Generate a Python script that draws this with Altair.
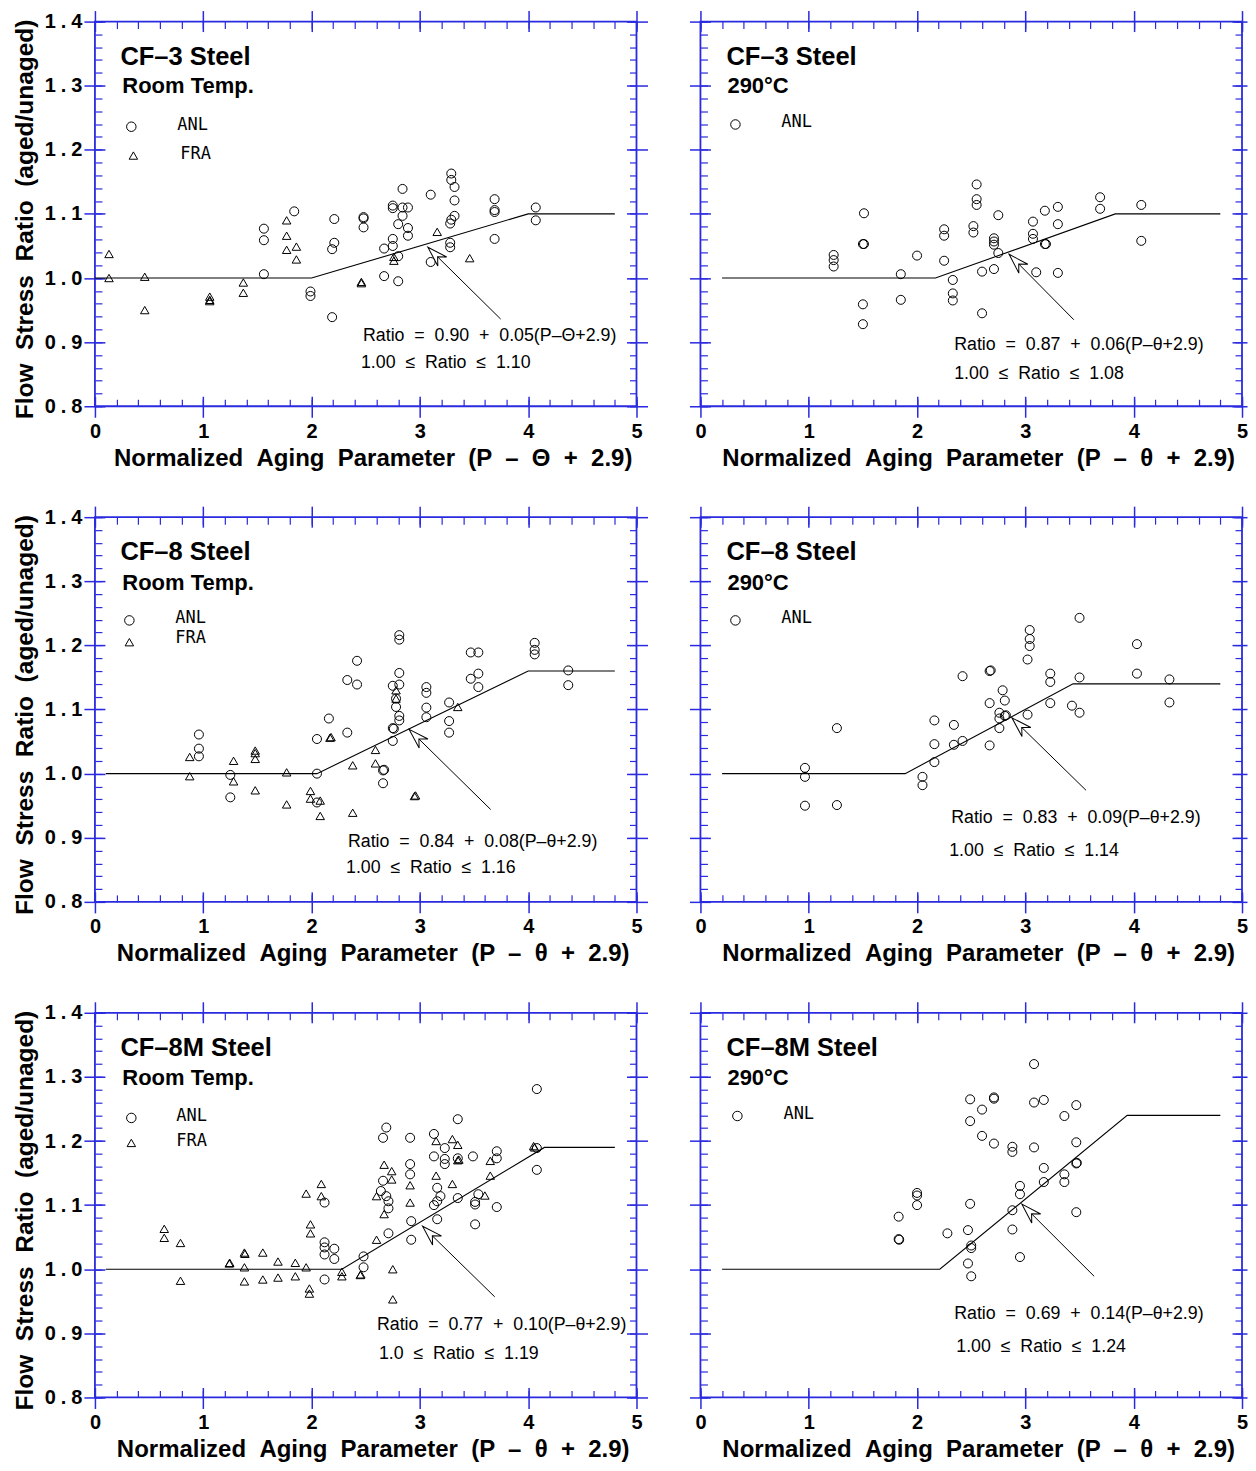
import math
import altair as alt
import pandas as pd

# ----------------------------- data -----------------------------
cf3_rt_anl = [(1.56,1.077),(1.56,1.059),(1.56,1.006),(1.84,1.104),(1.99,0.979),(1.99,0.972),(2.19,0.939),
              (2.21,1.092),(2.21,1.055),(2.19,1.045),(2.48,1.095),(2.48,1.093),(2.48,1.079),(2.67,1.046),
              (2.67,1.003),(2.75,1.113),(2.75,1.109),(2.75,1.061),(2.75,1.050),(2.80,1.084),(2.80,1.034),
              (2.80,0.995),(2.84,1.139),(2.84,1.110),(2.84,1.097),(2.89,1.110),(2.89,1.078),(2.89,1.066),
              (3.10,1.130),(3.10,1.025),(3.28,1.085),(3.29,1.091),(3.28,1.055),(3.28,1.048),(3.29,1.163),
              (3.29,1.153),(3.32,1.142),(3.32,1.121),(3.32,1.097),(3.69,1.123),(3.69,1.106),(3.69,1.103),
              (3.69,1.061),(4.07,1.110),(4.07,1.090)]
cf3_rt_fra = [(0.13,1.0375),(0.13,1.000),(0.46,1.002),(0.46,0.950),(1.06,0.971),(1.06,0.966),(1.06,0.964),
              (1.37,0.993),(1.37,0.977),(1.77,1.090),(1.77,1.066),(1.77,1.044),(1.86,1.049),(1.86,1.029),
              (2.46,0.994),(2.46,0.992),(2.76,1.033),(2.76,1.027),(3.16,1.072),(3.46,1.031)]
cf3_290_anl = [(1.23,1.036),(1.23,1.028),(1.23,1.018),(1.51,1.101),(1.50,1.053),(1.51,1.053),(1.50,0.959),
               (1.50,0.928),(1.85,1.006),(1.85,0.966),(2.00,1.035),(2.25,1.076),(2.25,1.066),(2.25,1.027),
               (2.33,0.997),(2.33,0.976),(2.33,0.965),(2.52,1.081),(2.52,1.071),(2.55,1.146),(2.55,1.123),
               (2.55,1.114),(2.60,1.010),(2.60,0.945),(2.71,1.062),(2.71,1.057),(2.71,1.052),(2.71,1.014),
               (2.75,1.098),(2.75,1.039),(3.07,1.088),(3.07,1.069),(3.07,1.061),(3.10,1.009),(3.18,1.105),
               (3.18,1.053),(3.19,1.053),(3.30,1.111),(3.30,1.084),(3.30,1.008),(3.69,1.126),(3.69,1.108),
               (4.07,1.114),(4.07,1.058)]
cf8_rt_anl = [(0.96,1.061),(0.96,1.039),(0.96,1.027),(1.25,0.998),(1.25,0.963),(2.05,1.000),(2.05,0.955),
              (2.05,1.054),(2.16,1.086),(2.33,1.064),(2.33,1.146),(2.42,1.139),(2.42,1.176),(2.66,1.005),
              (2.67,1.006),(2.66,0.985),(2.75,1.051),(2.75,1.071),(2.76,1.070),(2.75,1.137),(2.78,1.117),
              (2.78,1.104),(2.81,1.216),(2.81,1.209),(2.81,1.157),(2.81,1.139),(2.81,1.090),(2.81,1.083),
              (3.06,1.135),(3.06,1.126),(3.06,1.103),(3.06,1.088),(3.27,1.111),(3.27,1.082),(3.27,1.064),
              (3.47,1.148),(3.47,1.189),(3.54,1.189),(3.54,1.156),(3.54,1.135),(4.06,1.204),(4.06,1.193),
              (4.06,1.186),(4.37,1.161),(4.37,1.138)]
cf8_rt_fra = [(0.875,1.026),(0.875,0.996),(1.28,1.020),(1.28,0.988),(1.48,1.036),(1.48,1.032),(1.48,1.023),
              (1.48,0.974),(1.77,1.002),(1.77,0.952),(1.99,0.973),(1.99,0.961),(2.08,0.958),(2.08,0.934),
              (2.17,1.056),(2.18,1.057),(2.38,1.013),(2.38,0.939),(2.59,1.037),(2.59,1.016),(2.78,1.130),
              (2.78,1.117),(2.95,0.965),(2.96,0.966),(3.35,1.104)]
cf8_290_anl = [(0.965,1.009),(0.965,0.995),(0.965,0.950),(1.26,1.071),(1.26,0.951),(2.05,0.995),(2.05,0.982),
               (2.16,1.083),(2.16,1.046),(2.16,1.018),(2.34,1.076),(2.34,1.045),(2.42,1.152),(2.42,1.051),
               (2.67,1.160),(2.68,1.161),(2.67,1.110),(2.67,1.044),(2.76,1.095),(2.76,1.086),(2.76,1.071),
               (2.79,1.130),(2.81,1.114),(2.81,1.090),(2.82,1.091),(3.02,1.178),(3.04,1.224),(3.04,1.210),
               (3.04,1.199),(3.02,1.092),(3.23,1.156),(3.23,1.143),(3.23,1.110),(3.43,1.106),(3.50,1.150),
               (3.50,1.095),(3.50,1.243),(4.03,1.202),(4.03,1.156),(4.33,1.147),(4.33,1.111)]
cf8m_rt_anl = [(2.12,1.104),(2.12,1.042),(2.12,1.034),(2.12,1.023),(2.21,1.032),(2.21,1.016),(2.12,0.984),
               (2.48,1.020),(2.48,1.003),(4.08,1.281),(4.08,1.189),(4.08,1.155),(3.35,1.234),(2.69,1.221),
               (2.66,1.205),(2.91,1.205),(3.13,1.211),(3.23,1.189),(3.13,1.176),(3.23,1.172),(3.23,1.164),
               (3.35,1.173),(3.49,1.176),(3.71,1.184),(3.71,1.173),(2.91,1.164),(2.91,1.148),(2.66,1.138),
               (2.64,1.122),(2.69,1.114),(2.71,1.106),(2.71,1.095),(3.16,1.127),(3.19,1.114),(3.16,1.106),
               (3.13,1.100),(3.35,1.111),(3.51,1.105),(3.51,1.101),(3.54,1.117),(3.71,1.097),(3.16,1.078),
               (3.51,1.070),(2.92,1.075),(2.71,1.056),(2.92,1.046)]
cf8m_rt_fra = [(0.64,1.063),(0.64,1.049),(0.79,1.041),(0.79,0.982),(1.24,1.009),(1.245,1.010),(1.38,1.026),
               (1.385,1.024),(1.38,1.003),(1.38,0.981),(1.55,1.026),(1.55,0.984),(1.69,1.012),(1.69,0.987),
               (1.85,1.010),(1.85,0.989),(1.95,1.003),(1.95,1.118),(1.98,0.970),(1.98,0.962),(1.99,1.070),
               (1.99,1.056),(2.09,1.133),(2.09,1.114),(2.28,0.996),(2.28,0.989),(2.45,0.991),(2.455,0.992),
               (2.60,1.114),(2.60,1.046),(3.15,1.200),(3.30,1.203),(3.35,1.194),(3.35,1.170),(3.36,1.171),
               (3.65,1.169),(3.65,1.146),(3.15,1.146),(3.30,1.133),(2.67,1.163),(2.74,1.153),(2.74,1.140),
               (2.91,1.131),(2.91,1.104),(2.67,1.086),(3.60,1.115),(4.05,1.192),(4.06,1.190),(2.75,1.000),
               (2.75,0.953)]
cf8m_290_anl = [(3.08,1.320),(2.49,1.265),(2.71,1.268),(2.71,1.266),(2.60,1.249),(3.08,1.260),(3.17,1.264),
                (3.47,1.256),(3.36,1.239),(2.49,1.231),(2.60,1.208),(2.71,1.196),(2.88,1.191),(2.88,1.183),
                (3.08,1.190),(3.47,1.198),(3.47,1.165),(3.475,1.166),(3.17,1.158),(3.36,1.148),(3.17,1.136),
                (3.36,1.136),(2.95,1.130),(2.95,1.117),(2.88,1.092),(3.47,1.089),(2.00,1.119),(2.00,1.115),
                (2.00,1.100),(1.83,1.082),(1.83,1.047),(1.835,1.046),(2.28,1.056),(2.49,1.102),(2.47,1.061),
                (2.50,1.037),(2.50,1.033),(2.47,1.009),(2.50,0.989),(2.88,1.062),(2.95,1.019)]

# fitted (bilinear) curves as drawn
cf3_rt_fit = [(0.0,1.0),(2.0,1.0),(4.0,1.1),(4.8,1.1)]
cf3_290_fit = [(0.2,1.0),(2.17,1.0),(3.83,1.1),(4.8,1.1)]
cf8_rt_fit = [(0.1,1.0),(2.05,1.0),(4.0,1.16),(4.8,1.16)]
cf8_290_fit = [(0.2,1.0),(1.89,1.0),(3.44,1.14),(4.8,1.14)]
cf8m_rt_fit = [(0.1,1.0),(2.28,1.0),(4.15,1.19),(4.8,1.19)]
cf8m_290_fit = [(0.2,1.0),(2.21,1.0),(3.94,1.24),(4.8,1.24)]

# texts
panel_titles = ["CF–3 Steel", "CF–3 Steel", "CF–8 Steel", "CF–8 Steel", "CF–8M Steel", "CF–8M Steel"]
panel_subtitles = ["Room Temp.", "290°C", "Room Temp.", "290°C", "Room Temp.", "290°C"]
eq_line1 = ["Ratio = 0.90 + 0.05(P–Θ+2.9)", "Ratio = 0.87 + 0.06(P–θ+2.9)", "Ratio = 0.84 + 0.08(P–θ+2.9)",
            "Ratio = 0.83 + 0.09(P–θ+2.9)", "Ratio = 0.77 + 0.10(P–θ+2.9)", "Ratio = 0.69 + 0.14(P–θ+2.9)"]
eq_line2 = ["1.00 ≤ Ratio ≤ 1.10", "1.00 ≤ Ratio ≤ 1.08", "1.00 ≤ Ratio ≤ 1.16",
            "1.00 ≤ Ratio ≤ 1.14", "1.0 ≤ Ratio ≤ 1.19", "1.00 ≤ Ratio ≤ 1.24"]
x_titles = ["Normalized Aging Parameter (P – Θ + 2.9)"] + ["Normalized Aging Parameter (P – θ + 2.9)"] * 5
y_title = "Flow Stress Ratio (aged/unaged)"
legend_names = ["ANL", "FRA"]

# annotation anchors (data units)
title_pos = [(0.235,1.3455),(0.24,1.3455),(0.235,1.345),(0.24,1.345),(0.235,1.345),(0.24,1.345)]
sub_pos = [(0.253,1.299),(0.249,1.299),(0.253,1.298),(0.249,1.298),(0.253,1.298),(0.249,1.298)]
anl_sym_pos = [(0.336,1.236),(0.323,1.2395),(0.318,1.239),(0.323,1.239),(0.336,1.236),(0.341,1.239)]
anl_lab_pos = [(0.76,1.238),(0.747,1.243),(0.742,1.242),(0.747,1.242),(0.751,1.239),(0.766,1.242)]
fra_sym_pos = [(0.355,1.191),None,(0.318,1.205),None,(0.336,1.197),None]
fra_lab_pos = [(0.788,1.194),None,(0.742,1.211),None,(0.751,1.200),None]
eq1_pos = [(2.475,0.909),(2.343,0.895),(2.336,0.893),(2.315,0.931),(2.604,0.913),(2.343,0.930)]
eq2_pos = [(2.456,0.867),(2.343,0.850),(2.318,0.853),(2.297,0.879),(2.622,0.868),(2.362,0.879)]
arrow_tip = [(3.074,1.048),(2.85,1.037),(2.901,1.069),(2.876,1.087),(3.025,1.067),(2.968,1.1015)]
arrow_tail = [(3.746,0.936),(3.447,0.935),(3.654,0.944),(3.56,0.974),(3.691,0.957),(3.635,0.989)]

x_major = [0, 1, 2, 3, 4, 5]
x_minor = [round(0.2 * i, 1) for i in range(26)]
y_major = [0.8, 0.9, 1.0, 1.1, 1.2, 1.3, 1.4]
y_minor = [round(0.8 + 0.02 * i, 2) for i in range(31)]

# ----------------------------- styling -----------------------------
BLUE = "#2a2ae0"
FONT = "Liberation Sans"
LEGFONT = "DejaVu Sans Mono"
W, H = 542, 385
XDOM, YDOM = [0, 5], [0.8, 1.4]
ARROW = "M0,0L0.5,1.6L0,1.08L-0.5,1.6Z"
GAP2 = " \u00a0"


def wide(s, gap):
    return s.replace(" ", gap)


def sx():
    return alt.Scale(domain=XDOM, nice=False, zero=False)


def sy():
    return alt.Scale(domain=YDOM, nice=False, zero=False)


def xy(xaxis=None, yaxis=None, xf="x", yf="y"):
    return dict(x=alt.X(f"{xf}:Q", scale=sx(), axis=xaxis), y=alt.Y(f"{yf}:Q", scale=sy(), axis=yaxis))


def minor_axis(orient, vals):
    return alt.Axis(orient=orient, values=vals, offset=-7, tickSize=7, domain=False, grid=False,
                    labels=False, title=None, tickColor=BLUE, tickWidth=1.2, minExtent=0)


def major_plain(orient, vals, size=21):
    return alt.Axis(orient=orient, values=vals, offset=-10, tickSize=size, domain=False, grid=False,
                    labels=False, title=None, tickColor=BLUE, tickWidth=1.5, minExtent=0)


def head_angle(tip, tail):
    dx = (tip[0] - tail[0]) * W / 5
    dy = -(tip[1] - tail[1]) * H / 0.6
    return math.degrees(math.atan2(dx, -dy)) % 360


def text_layer(rows, size, weight, font):
    df = pd.DataFrame(rows, columns=["x", "y", "t"])
    return alt.Chart(df).mark_text(align="left", baseline="middle", font=font, fontSize=size,
                                   fontWeight=weight, color="black").encode(**xy(), text="t:N")


def sym_layer(rows, shape, size):
    df = pd.DataFrame(rows, columns=["x", "y"])
    return alt.Chart(df).mark_point(shape=shape, filled=False, color="black", size=size,
                                    strokeWidth=1, opacity=1).encode(**xy())


anl_sets = [cf3_rt_anl, cf3_290_anl, cf8_rt_anl, cf8_290_anl, cf8m_rt_anl, cf8m_290_anl]
fra_sets = [cf3_rt_fra, None, cf8_rt_fra, None, cf8m_rt_fra, None]
fit_sets = [cf3_rt_fit, cf3_290_fit, cf8_rt_fit, cf8_290_fit, cf8m_rt_fit, cf8m_290_fit]


def panel(i):
    left = (i % 2 == 0)
    fit_df = pd.DataFrame(fit_sets[i], columns=["x", "y"])
    base = alt.Chart(fit_df)

    ax_bottom = alt.Axis(orient="bottom", values=x_major, format="d", offset=-10, tickSize=21,
                         domain=False, grid=False, tickColor=BLUE, tickWidth=1.5, minExtent=0,
                         labelFont=FONT, labelFontSize=20, labelFontWeight="bold", labelColor="black",
                         labelPadding=4, labelFlush=False, labelOverlap=False,
                         title=wide(x_titles[i], GAP2), titleFont=FONT, titleFontSize=24,
                         titleFontWeight="bold", titleColor="black", titlePadding=5, titleX=W / 2 + 7)
    if left:
        ax_left = alt.Axis(orient="left", values=y_major, offset=-10, tickSize=21, domain=False, grid=False,
                           tickColor=BLUE, tickWidth=1.5, minExtent=0, labelFont=FONT, labelFontSize=20,
                           labelFontWeight="bold", labelColor="black", labelPadding=2, labelOverlap=False,
                           labelExpr="replace(format(datum.value, '.1f'), '.', '\u2005.\u2005')",
                           title=wide(y_title, GAP2), titleFont=FONT, titleFontSize=24.5,
                           titleFontWeight="bold", titleColor="black", titlePadding=7, titleY=H / 2 + 5)
    else:
        ax_left = major_plain("left", y_major)

    right_size = 21 if left else 15
    layers = [
        base.mark_point(opacity=0).encode(**xy(ax_bottom, ax_left)),
        base.mark_point(opacity=0).encode(**xy(minor_axis("bottom", x_minor), minor_axis("left", y_minor))),
        base.mark_point(opacity=0).encode(**xy(major_plain("top", x_major),
                                               major_plain("right", y_major, right_size))),
        base.mark_point(opacity=0).encode(**xy(minor_axis("top", x_minor), minor_axis("right", y_minor))),
        base.mark_line(color="black", strokeWidth=1.1).encode(**xy()),
    ]
    layers.append(sym_layer(anl_sets[i], "circle", 81))
    if fra_sets[i] is not None:
        layers.append(sym_layer(fra_sets[i], "triangle-up", 72))

    # arrow
    tip, tail = arrow_tip[i], arrow_tail[i]
    arr_df = pd.DataFrame([{"x": tail[0], "y": tail[1], "x2": tip[0], "y2": tip[1]}])
    layers.append(alt.Chart(arr_df).mark_rule(color="black", strokeWidth=1).encode(
        x=alt.X("x:Q", scale=sx(), axis=None), y=alt.Y("y:Q", scale=sy(), axis=None),
        x2="x2:Q", y2="y2:Q"))
    head_df = pd.DataFrame([{"x": tip[0], "y": tip[1]}])
    layers.append(alt.Chart(head_df).mark_point(shape=ARROW, filled=True, fill="white", stroke="black",
                                                strokeWidth=1, size=640, opacity=1,
                                                angle=head_angle(tip, tail)).encode(**xy()))

    # texts
    layers.append(text_layer([(title_pos[i][0], title_pos[i][1], panel_titles[i])], 25.5, "bold", FONT))
    layers.append(text_layer([(sub_pos[i][0], sub_pos[i][1], panel_subtitles[i])], 22, "bold", FONT))
    leg_rows = [(anl_lab_pos[i][0], anl_lab_pos[i][1], legend_names[0])]
    layers.append(sym_layer([anl_sym_pos[i]], "circle", 90))
    if fra_sym_pos[i] is not None:
        leg_rows.append((fra_lab_pos[i][0], fra_lab_pos[i][1], legend_names[1]))
        layers.append(sym_layer([fra_sym_pos[i]], "triangle-up", 72))
    layers.append(text_layer(leg_rows, 17, "normal", LEGFONT))
    layers.append(text_layer([(eq1_pos[i][0], eq1_pos[i][1], wide(eq_line1[i], GAP2))],
                             17.8, "normal", FONT))
    layers.append(text_layer([(eq2_pos[i][0], eq2_pos[i][1], wide(eq_line2[i], GAP2))],
                             17.8, "normal", FONT))

    return (alt.layer(*layers).properties(width=W, height=H)
            .resolve_scale(x="shared", y="shared")
            .resolve_axis(x="independent", y="independent"))


chart = alt.concat(*[panel(i) for i in range(6)], columns=2,
                   spacing={"row": 111, "column": 64}, bounds="flush")
chart = chart.properties(padding={"left": 3, "top": 0, "right": -1, "bottom": 0}).configure_view(
    stroke=BLUE, strokeWidth=1.8)

chart.save("out.html", embed_options={"renderer": "svg", "actions": False})
